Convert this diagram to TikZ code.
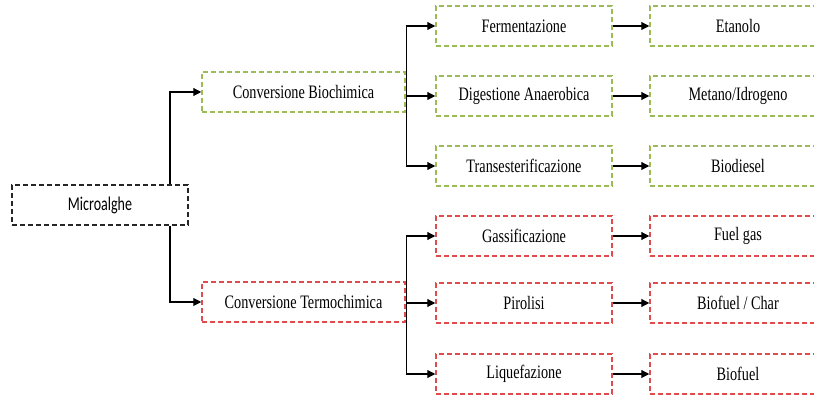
\documentclass[tikz,border=0pt]{standalone}
\usepackage{fontspec}
\setmainfont[FakeStretch=0.75]{Liberation Serif}
\newfontfamily\calfont[FakeStretch=0.72]{Carlito}
\usetikzlibrary{arrows.meta}
\definecolor{bgreen}{RGB}{155,187,89}
\definecolor{tred}{RGB}{225,75,75}
\tikzset{
  box/.style={draw, dash pattern=on 5pt off 3pt, line width=1.5pt, minimum height=40pt, minimum width=176pt, inner sep=0pt, font=\fontsize{19}{22}\selectfont},
  gbox/.style={box, draw=bgreen},
  rbox/.style={box, draw=tred},
  kbox/.style={box, draw=black!85, font=\calfont\fontsize{19.5}{22}\selectfont},
  arr/.style={line width=1.1pt, -{Triangle[length=8pt,width=8pt]}},
  ln/.style={line width=1.1pt}
}
\begin{document}
\begin{tikzpicture}[x=1pt,y=1pt]
\clip (0,0) rectangle (814,-398);
\node[kbox] (micro) at (100,-205) {Microalghe};
\node[gbox, minimum width=203pt] (bio) at (303.5,-92) {Conversione Biochimica};
\node[rbox, minimum width=203pt] (thermo) at (303.5,-302) {Conversione Termochimica};
\node[gbox] (ferm) at (524,-26) {Fermentazione};
\node[gbox] (dig) at (524,-96) {Digestione Anaerobica};
\node[gbox] (trans) at (524,-166) {Transesterificazione};
\node[rbox] (gas) at (524,-236) {Gassificazione};
\node[rbox] (pir) at (524,-303) {Pirolisi};
\node[rbox] (liq) at (524,-374) {Liquefazione};
\node[gbox] (etan) at (738,-26) {Etanolo};
\node[gbox] (met) at (738,-96) {Metano/Idrogeno};
\node[gbox] (biod) at (738,-166) {Biodiesel};
\node[rbox] (fuel) at (738,-236) {Fuel gas};
\node[rbox] (char) at (738,-303) {Biofuel / Char};
\node[rbox] (biof) at (738,-374) {Biofuel};
\coordinate (bj) at ([xshift=1pt]bio.east);
\coordinate (tj) at ([xshift=1pt]thermo.east);
\draw[arr] ([xshift=70pt]micro.north) |- (bio.west);
\draw[arr] ([xshift=70pt]micro.south) |- (thermo.west);
\draw[ln] (bio.east) -- (bj);
\draw[ln] (thermo.east) -- (tj);
\draw[arr] (bj) |- (ferm.west);
\draw[arr] (bj) |- (dig.west);
\draw[arr] (bj) |- (trans.west);
\draw[arr] (tj) |- (gas.west);
\draw[arr] (tj) |- (pir.west);
\draw[arr] (tj) |- (liq.west);
\draw[arr] (ferm) -- (etan);
\draw[arr] (dig) -- (met);
\draw[arr] (trans) -- (biod);
\draw[arr] (gas) -- (fuel);
\draw[arr] (pir) -- (char);
\draw[arr] (liq) -- (biof);
\end{tikzpicture}
\end{document}
